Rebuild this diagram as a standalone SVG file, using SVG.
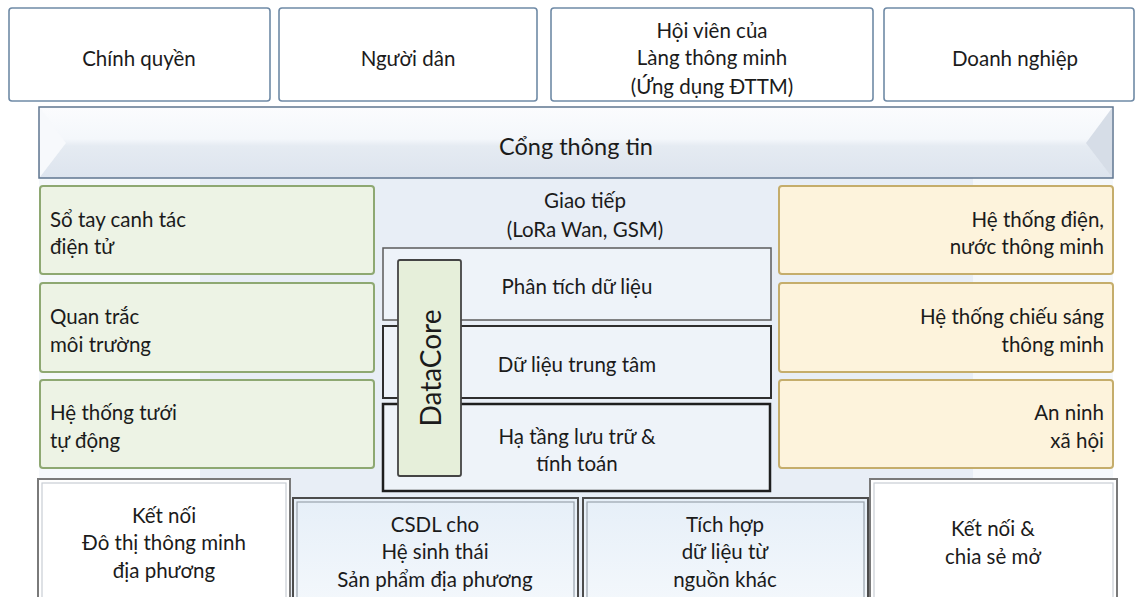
<svg xmlns="http://www.w3.org/2000/svg" width="1135" height="597" viewBox="0 0 1135 597">
<style>
text{font-family:Lato,"Noto Sans","Liberation Sans",sans-serif;font-size:20.5px;fill:#1b1b1b;dominant-baseline:central}
.c{text-anchor:middle}
.r{text-anchor:end}
.top{fill:#fff;stroke:#6f8aa6;stroke-width:1.6}
.green{fill:#edf3e5;stroke:#8ea872;stroke-width:2}
.orange{fill:#fdf3dc;stroke:#c5ad6b;stroke-width:2}
.layer{fill:#eef3f9;stroke:#5b5b5b;stroke-width:1.5}
.bot{fill:#fff;stroke:#7a7a7a;stroke-width:2}
.botb{fill:url(#gb);stroke:#4c4c4c;stroke-width:2}
.inner{fill:none;stroke:#c9ced4;stroke-width:1.2}
</style>
<defs>
<linearGradient id="gbar" x1="0" y1="0" x2="0" y2="1">
<stop offset="0" stop-color="#fbfcfe"/><stop offset="0.45" stop-color="#f4f7fb"/><stop offset="0.55" stop-color="#e5ebf2"/><stop offset="1" stop-color="#dde4ee"/>
</linearGradient>
<linearGradient id="gb" x1="0" y1="0" x2="0" y2="1">
<stop offset="0" stop-color="#e6eff8"/><stop offset="1" stop-color="#f4f8fc"/>
</linearGradient>
</defs>
<rect width="1135" height="597" fill="#fff"/>
<g id="backdrop">
<rect x="39" y="178" width="1074" height="419" fill="#e8eef6"/>
<rect x="39" y="178" width="161" height="419" fill="#f5f8fb"/>
<rect x="973" y="178" width="140" height="419" fill="#f5f8fb"/>
</g>
<g id="n-chinhquyen"><rect class="top" x="9" y="8" width="261" height="93" rx="3"/><text class="c" x="139" y="58">Chính quyền</text></g>
<g id="n-nguoidan"><rect class="top" x="279" y="8" width="258" height="93" rx="3"/><text class="c" x="408" y="58">Người dân</text></g>
<g id="n-hoivien"><rect class="top" x="551" y="8" width="322" height="93" rx="3"/><text class="c" x="712" y="30">Hội viên của</text><text class="c" x="712" y="57">Làng thông minh</text><text class="c" x="712" y="86">(Ứng dụng ĐTTM)</text></g>
<g id="n-doanhnghiep"><rect class="top" x="884" y="8" width="250" height="93" rx="3"/><text class="c" x="1015" y="58">Doanh nghiệp</text></g>
<g id="n-congthongtin">
<rect x="39" y="107" width="1074" height="71" fill="url(#gbar)" stroke="#5f7690" stroke-width="1.5"/>
<polygon points="40,108 66,143 40,177" fill="#f7f9fc"/>
<polygon points="1112,108 1086,143 1112,177" fill="#d6dde7"/>
<text class="c" x="576" y="146" style="font-size:23.5px">Cổng thông tin</text>
</g>
<g id="n-sotay"><rect class="green" x="40" y="186" width="334" height="88" rx="3"/><text x="50" y="219">Sổ tay canh tác</text><text x="50" y="246">điện tử</text></g>
<g id="n-quantrac"><rect class="green" x="40" y="283" width="334" height="89" rx="3"/><text x="50" y="316">Quan trắc</text><text x="50" y="344">môi trường</text></g>
<g id="n-tuoi"><rect class="green" x="40" y="380" width="334" height="88" rx="3"/><text x="50" y="412">Hệ thống tưới</text><text x="50" y="440">tự động</text></g>
<g id="n-dien"><rect class="orange" x="779" y="186" width="334" height="88" rx="3"/><text class="r" x="1104" y="219">Hệ thống điện,</text><text class="r" x="1104" y="246">nước thông minh</text></g>
<g id="n-chieusang"><rect class="orange" x="779" y="283" width="334" height="89" rx="3"/><text class="r" x="1104" y="316">Hệ thống chiếu sáng</text><text class="r" x="1104" y="344">thông minh</text></g>
<g id="n-anninh"><rect class="orange" x="779" y="380" width="334" height="88" rx="3"/><text class="r" x="1104" y="412">An ninh</text><text class="r" x="1104" y="440">xã hội</text></g>
<g id="n-giaotiep"><text class="c" x="585" y="200">Giao tiếp</text><text class="c" x="585" y="229">(LoRa Wan, GSM)</text></g>
<g id="n-phantich"><rect class="layer" x="383" y="248" width="388" height="72"/><text class="c" x="577" y="286">Phân tích dữ liệu</text></g>
<g id="n-dulieu"><rect class="layer" x="383" y="326" width="388" height="72" style="stroke:#2e2e2e;stroke-width:2"/><text class="c" x="577" y="364">Dữ liệu trung tâm</text></g>
<g id="n-hatang"><rect class="layer" x="383" y="404" width="387" height="87" style="stroke:#1e1e1e;stroke-width:2.5"/><text class="c" x="577" y="436">Hạ tầng lưu trữ &amp;</text><text class="c" x="577" y="463">tính toán</text></g>
<g id="n-datacore"><rect x="398" y="260" width="63" height="216" rx="2" fill="#e6efda" stroke="#444" stroke-width="1.8"/><text class="c" transform="translate(430 368) rotate(-90)" style="font-size:28px">DataCore</text></g>
<g id="n-ketnoi-dothi"><rect class="bot" x="38" y="479" width="252" height="125"/><rect class="inner" x="42" y="483" width="244" height="125"/><text class="c" x="164" y="515">Kết nối</text><text class="c" x="164" y="542">Đô thị thông minh</text><text class="c" x="164" y="570">địa phương</text></g>
<g id="n-csdl"><rect class="botb" x="293" y="498" width="285" height="110"/><rect class="inner" x="297" y="502" width="277" height="110" style="stroke:#9aa3ad"/><text class="c" x="435" y="524">CSDL cho</text><text class="c" x="435" y="551">Hệ sinh thái</text><text class="c" x="435" y="579">Sản phẩm địa phương</text></g>
<g id="n-tichhop"><rect class="botb" x="583" y="498" width="285" height="110"/><rect class="inner" x="587" y="502" width="277" height="110" style="stroke:#9aa3ad"/><text class="c" x="725" y="524">Tích hợp</text><text class="c" x="725" y="551">dữ liệu từ</text><text class="c" x="725" y="579">nguồn khác</text></g>
<g id="n-ketnoi-chiase"><rect class="bot" x="870" y="479" width="247" height="125"/><rect class="inner" x="874" y="483" width="239" height="125"/><text class="c" x="993" y="528">Kết nối &amp;</text><text class="c" x="993" y="556">chia sẻ mở</text></g>
<g id="connectors"></g>
</svg>
